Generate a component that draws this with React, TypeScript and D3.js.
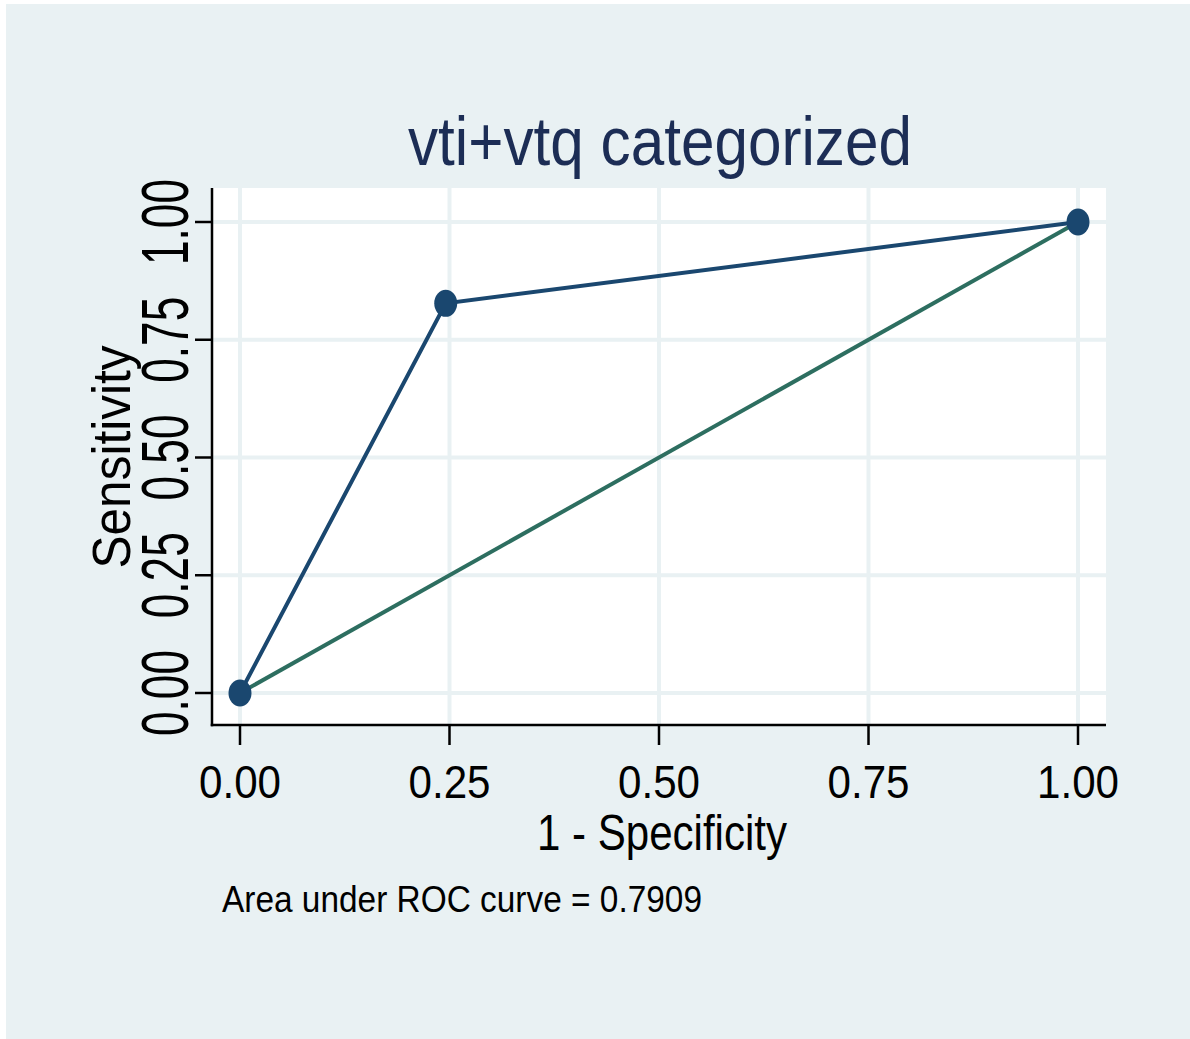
import React from "react";
import * as d3 from "d3";

const title = "vti+vtq categorized";
const xTitle = "1 - Specificity";
const yTitle = "Sensitivity";
const note = "Area under ROC curve = 0.7909";
const rocX = [0, 0.2455, 1];
const rocY = [0, 0.8273, 1];
const refX = [0, 1];
const refY = [0, 1];
const tickValues = [0, 0.25, 0.5, 0.75, 1];

const W = 1190;
const H = 1039;
const FONT = "'Liberation Sans', Arial, sans-serif";

export default function App() {
  const x = d3.scaleLinear().domain([0, 1]).range([240, 1078]);
  const y = d3.scaleLinear().domain([0, 1]).range([693, 222]);
  const plotL = 212, plotR = 1106, plotT = 188, plotB = 725;
  const fmt = d3.format(".2f");

  const rocPts: [number, number][] = rocX.map((v, i) => [v, rocY[i]]);
  const refPts: [number, number][] = refX.map((v, i) => [v, refY[i]]);
  const line = d3.line<[number, number]>().x(d => x(d[0])).y(d => y(d[1]));

  return (
    <svg width={W} height={H} style={{ position: "absolute", left: 0, top: 0 }} fontFamily={FONT}>
      <rect x={0} y={0} width={W} height={H} fill="#ffffff" />
      <rect x={6} y={4} width={W - 6} height={H - 4} fill="#e9f1f3" />
      <rect x={plotL} y={plotT} width={plotR - plotL} height={plotB - plotT} fill="#ffffff" />
      {tickValues.map(t => (
        <line key={"gx" + t} x1={x(t)} x2={x(t)} y1={plotT} y2={plotB} stroke="#e9f1f3" strokeWidth={4} />
      ))}
      {tickValues.map(t => (
        <line key={"gy" + t} x1={plotL} x2={plotR} y1={y(t)} y2={y(t)} stroke="#e9f1f3" strokeWidth={4} />
      ))}
      <path d={line(refPts) || ""} fill="none" stroke="#2d6e60" strokeWidth={4} />
      <path d={line(rocPts) || ""} fill="none" stroke="#1a476f" strokeWidth={4} />
      {rocPts.map((p, i) => (
        <ellipse key={"m" + i} cx={x(p[0])} cy={y(p[1])} rx={11.5} ry={13.5} fill="#1a476f" />
      ))}
      {/* axes */}
      <line x1={plotL} x2={plotL} y1={plotT} y2={plotB + 1.25} stroke="#000" strokeWidth={2.5} />
      <line x1={plotL - 1.25} x2={plotR} y1={plotB} y2={plotB} stroke="#000" strokeWidth={2.5} />
      {tickValues.map(t => (
        <g key={"xt" + t}>
          <line x1={x(t)} x2={x(t)} y1={plotB} y2={745} stroke="#000" strokeWidth={2.5} />
          <text x={x(t)} y={798} textAnchor="middle" fontSize={46} textLength={82} lengthAdjust="spacingAndGlyphs" fill="#000">
            {fmt(t)}
          </text>
        </g>
      ))}
      {tickValues.map(t => (
        <g key={"yt" + t}>
          <line x1={195} x2={plotL} y1={y(t)} y2={y(t)} stroke="#000" strokeWidth={2.5} />
          <text transform={`translate(188,${y(t)}) rotate(-90)`} textAnchor="middle" fontSize={66} textLength={86} lengthAdjust="spacingAndGlyphs" fill="#000">
            {fmt(t)}
          </text>
        </g>
      ))}
      <text transform={`translate(130,457) rotate(-90)`} textAnchor="middle" fontSize={53} textLength={223} lengthAdjust="spacingAndGlyphs" fill="#000">
        {yTitle}
      </text>
      <text x={662} y={850} textAnchor="middle" fontSize={50} textLength={250} lengthAdjust="spacingAndGlyphs" fill="#000">
        {xTitle}
      </text>
      <text x={660} y={165} textAnchor="middle" fontSize={69} textLength={504} lengthAdjust="spacingAndGlyphs" fill="#1c2d55">
        {title}
      </text>
      <text x={222} y={912} fontSize={37} textLength={480} lengthAdjust="spacingAndGlyphs" fill="#000">
        {note}
      </text>
    </svg>
  );
}
